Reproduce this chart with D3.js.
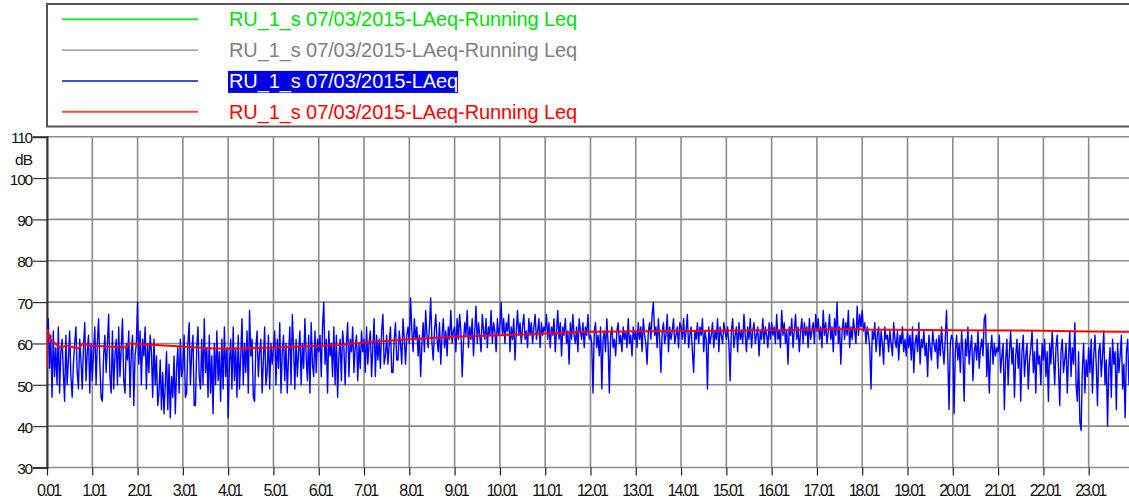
<!DOCTYPE html>
<html><head><meta charset="utf-8">
<script src="https://cdn.jsdelivr.net/npm/d3@7"></script>
<style>
html,body{margin:0;padding:0;background:#fff;}
svg{display:block;font-family:"Liberation Sans",Arial,sans-serif;}
</style></head>
<body>
<svg id="chart" width="1129" height="504"></svg>
<script>
// ---------- DATA ----------
const hourTicks = [0,1,2,3,4,5,6,7,8,9,10,11,12,13,14,15,16,17,18,19,20,21,22,23];
const hourTickLabels = ["0.01","1.01","2.01","3.01","4.01","5.01","6.01","7.01","8.01","9.01","10.01","11.01","12.01","13.01","14.01","15.01","16.01","17.01","18.01","19.01","20.01","21.01","22.01","23.01"];
const dbTicks = [30,40,50,60,70,80,90,100,110];
const legendLabels = ["RU_1_s 07/03/2015-LAeq-Running Leq","RU_1_s 07/03/2015-LAeq-Running Leq","RU_1_s 07/03/2015-LAeq","RU_1_s 07/03/2015-LAeq-Running Leq"];
const legendColors = ["#00e000","#808080","#0000ff","#ff0000"];
const legendLineColors = ["#22ee22","#8a8a8a","#4848ff","#ff4848"];
const sampleStepHours = 1/36;   // LAeq sampled every ~1.7 min
const laeq = [
 60,66,54,62,47,63,52,59,50,64,48,58,61,53,46,62,50,56,63,52,47,55,60,64,53,49,61,56,49,59,65,51,58,62,48,60,
 51,58,64,50,60,66,55,47,46,57,62,53,60,67,52,48,63,49,57,61,50,64,52,59,66,51,48,60,56,63,47,58,62,45,57,60,
 70,55,63,50,61,57,64,49,60,53,62,58,47,61,50,57,45,48,56,44,53,43,50,58,44,55,42,52,47,57,43,54,59,48,61,52,
 54,62,47,48,60,65,50,58,62,45,45,59,64,52,49,61,50,66,53,59,47,62,48,57,43,60,50,63,51,58,46,61,49,64,52,59,
 42,55,61,49,64,51,59,47,62,49,57,66,50,60,53,63,48,68,57,61,47,46,59,63,52,58,61,48,56,64,50,53,62,49,60,55,
 59,63,50,61,54,65,48,58,62,51,60,48,57,64,50,67,59,49,61,52,58,63,50,60,54,66,57,51,62,48,65,55,52,63,53,61,
 58,62,52,64,70,55,61,48,63,57,60,52,64,50,62,47,57,61,51,63,59,50,60,65,52,61,58,64,53,59,62,51,60,54,63,58,
 61,53,64,55,60,63,52,59,66,52,62,56,61,54,63,67,55,57,62,55,60,64,53,53,61,65,56,56,63,60,55,66,61,55,62,64,
 60,71,63,58,66,61,64,57,62,52,60,65,58,68,62,59,64,71,60,56,63,67,61,58,65,55,62,66,59,63,57,64,61,68,60,63,
 64,58,66,61,67,63,52,60,65,62,68,59,64,61,66,57,63,69,60,65,62,58,67,63,61,66,59,64,62,68,60,65,63,58,66,62,
 64,70,62,66,60,65,63,67,58,64,61,66,56,63,68,62,65,60,64,67,61,63,59,66,62,65,60,64,67,61,63,66,59,65,62,64,
 63,67,61,65,59,64,62,66,58,63,68,61,65,57,64,62,66,60,63,55,65,61,67,62,60,64,58,66,63,61,65,59,64,62,67,61,
 62,60,48,63,65,59,62,57,64,49,61,63,58,66,60,48,62,64,59,61,57,63,65,60,62,58,64,61,63,59,66,60,62,57,64,61,
 63,59,65,61,64,58,66,62,60,55,63,65,61,67,70,62,64,59,66,61,53,63,65,60,62,67,58,64,61,63,66,60,62,64,59,65,
 64,61,66,60,63,67,59,62,64,58,53,63,61,65,60,64,62,66,58,63,61,49,64,60,62,65,59,63,61,66,58,64,62,60,65,63,
 61,64,60,51,63,66,59,62,64,58,65,61,63,60,67,62,58,64,61,66,59,63,65,60,62,64,57,63,61,66,60,64,62,59,65,61,
 65,62,64,60,67,61,63,59,68,62,65,60,63,55,64,62,66,59,63,67,61,64,58,63,66,60,65,62,64,59,66,61,63,65,60,67,
 63,66,61,64,59,68,62,65,60,63,67,61,64,58,66,62,70,60,64,55,63,66,61,65,62,68,59,64,61,66,63,60,69,62,67,64,
 68,63,65,60,64,62,59,49,63,61,65,58,62,64,57,63,60,55,64,61,62,58,63,60,57,65,61,59,63,56,62,60,64,58,61,57,
 63,59,62,56,64,53,60,62,58,65,55,61,59,63,57,60,52,62,59,56,63,60,58,61,54,62,57,64,59,55,61,68,57,44,60,62,
 61,43,58,62,56,60,53,63,58,46,61,57,64,55,59,62,51,58,60,56,63,54,59,61,57,66,67,52,60,48,58,62,55,60,57,59,
 58,62,53,57,60,44,56,61,50,58,63,55,59,47,57,61,54,60,46,58,62,52,57,60,49,56,59,63,53,58,48,61,55,57,50,60,
 56,61,52,58,46,60,55,63,57,50,59,62,54,45,58,61,53,56,60,48,57,63,52,59,55,65,50,46,58,41,39,54,60,48,56,52,
 59,53,61,48,57,62,55,45,58,60,52,57,63,50,56,40,54,59,47,61,55,58,44,60,53,57,62,49,55,42,58,61,50,57,55,62
];
const runTimes  = [0.0,0.01,0.07,0.29,0.43,0.69,0.8,0.95,1.76,1.8,2.79,3.67,4.4,5.73,6.47,6.98,8,9,10,11,12,14,16,17.9,18,20,22,23,23.9];
const runValues = [54.2,63.4,61,59,59.5,58.8,60,59.5,59,60,59.4,58.8,58.8,59.3,59.6,60.2,61,61.6,62,62.4,62.8,63,63.2,63.5,63.4,63.2,63.1,62.9,62.8];

// ---------- CHART ----------
const svg = d3.select("#chart");
const x = d3.scaleLinear().domain([0,24]).range([47, 47 + 24*45.29]);
const y = d3.scaleLinear().domain([30,110]).range([467.5, 136.7]);

// grid
const grid = svg.append("g");
grid.selectAll("line.v").data(hourTicks.concat([24])).join("line")
  .attr("x1", d=>x(d)).attr("x2", d=>x(d)).attr("y1", y(110)).attr("y2", y(30))
  .attr("stroke","#8c8c8c").attr("stroke-width",1.6);
grid.selectAll("line.h").data(dbTicks).join("line")
  .attr("x1", x(0)).attr("x2", x(24)).attr("y1", d=>y(d)).attr("y2", d=>y(d))
  .attr("stroke","#8c8c8c").attr("stroke-width",1.6);

// y axis
const yAxis = d3.axisLeft(y).tickValues(dbTicks).tickSize(14).tickPadding(1).tickFormat(d3.format("d"));
const gy = svg.append("g").attr("transform",`translate(${x(0)},0)`).call(yAxis);
gy.select(".domain").attr("stroke","#333").attr("stroke-width",2);
gy.selectAll(".tick line").attr("stroke","#333").attr("stroke-width",1.2);
gy.selectAll(".tick text").attr("font-size",15.5).attr("fill","#111")
  .attr("font-family","Liberation Sans, Arial, sans-serif").attr("letter-spacing","-1.2px")
  .attr("dy","0.4em");
svg.append("text").attr("x",32).attr("y",165).attr("text-anchor","end")
  .attr("font-size",15.5).attr("letter-spacing","-1px").attr("fill","#111").text("dB");

// x axis
const xAxis = d3.axisBottom(x).tickValues(hourTicks).tickSize(8).tickPadding(9)
  .tickFormat((d,i)=>hourTickLabels[i]);
const gx = svg.append("g").attr("transform",`translate(0,${y(30)})`).call(xAxis);
gx.select(".domain").remove();
gx.selectAll(".tick line").attr("stroke","#222").attr("stroke-width",1.2);
gx.selectAll(".tick text").attr("font-size",16).attr("fill","#111")
  .attr("font-family","Liberation Sans, Arial, sans-serif").attr("letter-spacing","-2px")
  .attr("dx","1px");

// clip
svg.append("clipPath").attr("id","clip").append("rect")
  .attr("x",x(0)).attr("y",y(110)).attr("width",x(24)-x(0)).attr("height",y(30)-y(110));

// LAeq line
const laeqLine = d3.line().x((d,i)=>x(i*sampleStepHours)).y(d=>y(d));
svg.append("path").datum(laeq).attr("clip-path","url(#clip)")
  .attr("d",laeqLine).attr("fill","none").attr("stroke","#0000ff").attr("stroke-width",1.4)
  .attr("stroke-linejoin","round");

// Running Leq
const runLine = d3.line().x((d,i)=>x(runTimes[i])).y(d=>y(d));
svg.append("path").datum(runValues).attr("clip-path","url(#clip)")
  .attr("d",runLine).attr("fill","none").attr("stroke","#ff0000").attr("stroke-width",2);

// legend
const lg = svg.append("g");
lg.append("rect").attr("x",47).attr("y",4).attr("width",1200).attr("height",122.5)
  .attr("fill","#fff").attr("stroke","#555").attr("stroke-width",2);
const rows = lg.selectAll("g.row").data(legendLabels).join("g")
  .attr("transform",(d,i)=>`translate(0,${19.3 + i*30.8})`);
rows.append("line").attr("x1",62).attr("x2",198).attr("y1",0).attr("y2",0)
  .attr("stroke",(d,i)=>legendLineColors[i]).attr("stroke-width",(d,i)=>i===1?1.2:2);
rows.each(function(d,i){
  const g = d3.select(this);
  const t = g.append("text").attr("x",229).attr("y",7).attr("font-size",20)
    .attr("letter-spacing","-0.1px")
    .attr("fill", i===2 ? "#fff" : legendColors[i]).text(d);
  if(i===2){
    const bb = t.node().getBBox();
    g.insert("rect","text").attr("x",bb.x-1).attr("y",bb.y+1).attr("width",bb.width+1).attr("height",bb.height-1)
      .attr("fill","#0000e8");
  }
});
</script>
</body></html>
